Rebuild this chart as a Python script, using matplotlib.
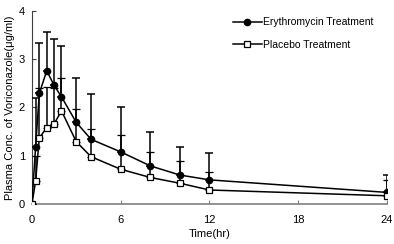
import numpy as np
import matplotlib
matplotlib.use('Agg')
import matplotlib.pyplot as plt
from matplotlib.lines import Line2D

plt.rcParams['font.family'] = ['Liberation Sans', 'DejaVu Sans']

# Tiempos de muestreo (h)
tiempo = [0, 0.25, 0.5, 1, 1.5, 2, 3, 4, 6, 8, 10, 12, 24]

# Eritromicina: media y extremo superior de la barra de error
eri_media = [0, 1.19, 2.29, 2.76, 2.46, 2.22, 1.69, 1.34, 1.08, 0.79, 0.60, 0.50, 0.24]
eri_sup = [0, 2.20, 3.33, 3.56, 3.41, 3.28, 2.62, 2.28, 2.02, 1.49, 1.18, 1.06, 0.60]

# Placebo: media y extremo superior
pla_media = [0, 0.47, 1.37, 1.58, 1.66, 1.93, 1.29, 0.98, 0.72, 0.55, 0.43, 0.29, 0.17]
pla_sup = [0, 0.99, 2.41, 2.42, 2.40, 2.62, 1.96, 1.55, 1.43, 1.08, 0.90, 0.67, 0.50]

etiquetas = ['Erythromycin Treatment', 'Placebo Treatment']

fig = plt.figure(figsize=(3.94, 2.44), dpi=100)
ax = fig.add_axes([0.081, 0.164, 0.901, 0.791])

err_eri = [np.zeros(len(tiempo)), np.array(eri_sup) - np.array(eri_media)]
err_pla = [np.zeros(len(tiempo)), np.array(pla_sup) - np.array(pla_media)]

estilo_eri = dict(color='black', lw=1.1, marker='o', ms=4.5, mfc='black', mec='black')
estilo_pla = dict(color='black', lw=1.1, marker='s', ms=5, mfc='white', mec='black', mew=0.9)

ax.errorbar(tiempo, eri_media, yerr=err_eri, ecolor='black', elinewidth=1.1,
            capsize=3.2, capthick=1.1, zorder=3, **estilo_eri)
ax.errorbar(tiempo, pla_media, yerr=err_pla, ecolor='black', elinewidth=1.1,
            capsize=3.2, capthick=1.1, zorder=4, **estilo_pla)

ax.set_xlim(0, 24)
ax.set_ylim(0, 4)
ax.set_xticks([0, 6, 12, 18, 24])
ax.set_yticks([0, 1, 2, 3, 4])

for s in ['top', 'right']:
    ax.spines[s].set_visible(False)
ax.spines['bottom'].set_color('#808080')
ax.spines['bottom'].set_linewidth(1.2)
ax.spines['left'].set_color('#404040')
ax.spines['left'].set_linewidth(0.8)
ax.tick_params(axis='x', direction='in', length=3, color='#808080', labelsize=8, pad=8)
ax.tick_params(axis='y', direction='in', length=3, color='#404040', labelsize=8, pad=5)

ax.set_xlabel('Time(hr)', fontsize=8, labelpad=3)
ax.set_ylabel('Plasma Conc. of Voriconazole(μg/ml)', fontsize=8, labelpad=3)

# Leyenda sin barras de error
manejadores = [Line2D([], [], **estilo_eri), Line2D([], [], **estilo_pla)]
ax.legend(manejadores, etiquetas, loc='upper left', bbox_to_anchor=(0.55, 1.0),
          frameon=False, fontsize=7.5, handlelength=2.7, handletextpad=0.15,
          labelspacing=1.2, borderaxespad=0.2)

fig.savefig('out.png', dpi=100)
